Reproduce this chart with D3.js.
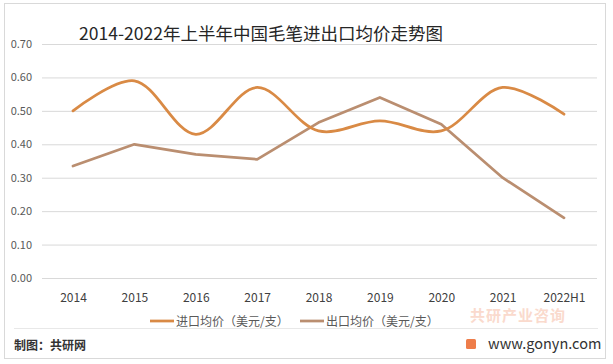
<!DOCTYPE html>
<html><head><meta charset="utf-8">
<script src="https://cdn.jsdelivr.net/npm/d3@7"></script>
<style>body{margin:0;background:#fff}svg{display:block}text{font-family:"Noto Sans CJK SC","Microsoft YaHei",sans-serif}</style>
</head><body><div id="chart"></div>
<script>
const categories = ["2014","2015","2016","2017","2018","2019","2020","2021","2022H1"];
const importPrice = [0.50,0.59,0.43,0.57,0.44,0.47,0.44,0.57,0.49];
const exportPrice = [0.335,0.40,0.37,0.355,0.465,0.54,0.46,0.30,0.18];
const yTicks = [0,0.1,0.2,0.3,0.4,0.5,0.6,0.7];
const seriesNames = ["进口均价（美元/支）","出口均价（美元/支）"];
const title = "2014-2022年上半年中国毛笔进出口均价走势图";

const W=613,H=364;
const svg=d3.select("#chart").append("svg").attr("width",W).attr("height",H);
svg.append("rect").attr("x",4.5).attr("y",3.5).attr("width",601).attr("height",355).attr("fill","#fff").attr("stroke","#d9d9d9");

const x=d3.scalePoint().domain(categories).range([73,564]);
const y=d3.scaleLinear().domain([0,0.7]).range([278,44]);

const grid=svg.append("g");
grid.selectAll("line").data(yTicks).join("line")
 .attr("x1",42).attr("x2",597).attr("y1",d=>y(d)+0.5).attr("y2",d=>y(d)+0.5)
 .attr("stroke","#d9d9d9").attr("stroke-width",1);

const yAxis=svg.append("g").attr("transform","translate(32,0)")
 .call(d3.axisLeft(y).tickValues(yTicks).tickFormat(d3.format(".2f")).tickSize(0));
yAxis.select(".domain").remove();
yAxis.selectAll("text").attr("font-size",11).attr("fill","#595959").attr("x",0);

const xAxis=svg.append("g").attr("transform","translate(0,290)")
 .call(d3.axisBottom(x).tickSize(0));
xAxis.select(".domain").remove();
xAxis.selectAll("text").attr("font-size",12).attr("fill","#404040").attr("dy","0.71em");

svg.append("text").attr("x",261).attr("y",40).attr("text-anchor","middle")
 .attr("font-size",17.5).attr("fill","#262626").text(title);

const lineImp=d3.line().x((d,i)=>x(categories[i])).y(d=>y(d)).curve(d3.curveCatmullRom.alpha(0.5));
const lineExp=d3.line().x((d,i)=>x(categories[i])).y(d=>y(d));
svg.append("path").datum(exportPrice).attr("d",lineExp).attr("fill","none").attr("stroke","#BA8E70").attr("stroke-width",2.75).attr("stroke-linejoin","round").attr("stroke-linecap","round");
svg.append("path").datum(importPrice).attr("d",lineImp).attr("fill","none").attr("stroke","#D98A45").attr("stroke-width",2.75).attr("stroke-linecap","round");

const colors=["#D98A45","#BA8E70"];
const lx=[150,300];
seriesNames.forEach((n,i)=>{
  svg.append("line").attr("x1",lx[i]).attr("x2",lx[i]+24).attr("y1",321).attr("y2",321).attr("stroke",colors[i]).attr("stroke-width",2.75);
  svg.append("text").attr("x",lx[i]+26).attr("y",325.5).attr("font-size",12).attr("fill","#595959").text(n);
});

svg.append("line").attr("x1",14).attr("x2",598).attr("y1",328.5).attr("y2",328.5).attr("stroke","#e8e8e8");
svg.append("text").attr("x",14).attr("y",350).attr("font-size",12).attr("font-weight","bold").attr("fill","#333").text("制图：共研网");
svg.append("text").attr("x",470).attr("y",321).attr("font-size",15).attr("font-weight","bold").attr("fill","#fadacd").attr("letter-spacing",1).text("共研产业咨询");
svg.append("rect").attr("x",466).attr("y",339).attr("width",10).attr("height",10).attr("rx",1.5).attr("fill","#ee7d4a");
svg.append("text").attr("x",488).attr("y",349).attr("font-size",14.5).attr("fill","#333").text("www.gonyn.com");
</script></body></html>
